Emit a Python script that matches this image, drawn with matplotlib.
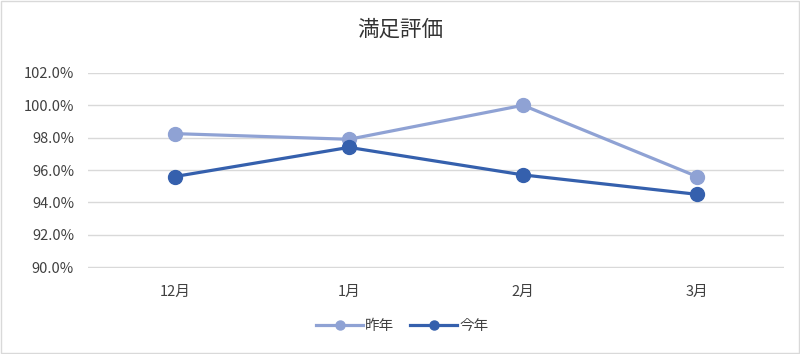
import matplotlib.pyplot as plt
from matplotlib.ticker import PercentFormatter

plt.rcParams['font.family'] = ['Noto Sans CJK JP', 'DejaVu Sans']

months = ['12月', '1月', '2月', '3月']
last_year = [98.25, 97.9, 100.0, 95.6]
this_year = [95.6, 97.4, 95.7, 94.5]

text_color = '#404040'

fig = plt.figure(figsize=(8, 3.54), dpi=100)
ax = fig.add_axes([0.11, 0.243, 0.87, 0.551])

x = range(len(months))
ax.plot(x, last_year, color='#8FA2D4', lw=2.3, marker='o', ms=10, label='昨年')
ax.plot(x, this_year, color='#3560AD', lw=2.3, marker='o', ms=10, label='今年')

ax.set_xlim(-0.5, len(months) - 0.5)
ax.set_ylim(89.95, 102)
ax.set_yticks(range(90, 103, 2))
ax.yaxis.set_major_formatter(PercentFormatter(decimals=1))
ax.set_xticks(list(x))
ax.set_xticklabels(months)
ax.grid(axis='y', color='#d9d9d9', lw=1)
ax.set_axisbelow(True)
for s in ax.spines.values():
    s.set_visible(False)
ax.tick_params(length=0, colors=text_color, labelsize=10.5)
ax.tick_params(axis='x', pad=12)
ax.tick_params(axis='y', pad=10)

fig.text(0.5, 1 - 30 / 354, '満足評価', color='#333333', fontsize=15.5,
         ha='center', va='center')

fig.legend(loc='center', bbox_to_anchor=(0.503, 0.08), ncol=2, frameon=False,
           fontsize=10.5, labelcolor=text_color, handlelength=3.2,
           handletextpad=0.15, columnspacing=1.1, markerscale=0.65)

# light border around the whole chart
fig.patches.append(plt.Rectangle((0.001, 0.002), 0.998, 0.996, transform=fig.transFigure,
                                 fill=False, edgecolor='#d9d9d9', lw=1))

fig.savefig('out.png', dpi=100)
